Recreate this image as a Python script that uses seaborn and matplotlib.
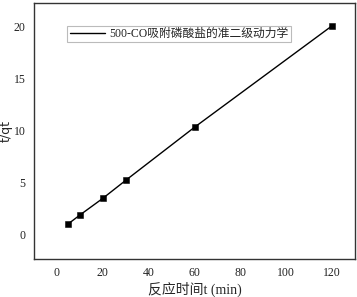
import matplotlib
matplotlib.use("Agg")
import matplotlib.pyplot as plt
import seaborn as sns
import pandas as pd

t_min = [5, 10, 20, 30, 60, 120]
t_over_qt = [1.0, 1.84, 3.45, 5.19, 10.31, 20.1]
series_label = "500-CO吸附磷酸盐的准二级动力学"
x_label = "反应时间t (min)"
y_label = "t/qt"
x_ticks = [0, 20, 40, 60, 80, 100, 120]
y_ticks = [0, 5, 10, 15, 20]

sns.set_theme(style="white")
plt.rcParams['font.family'] = ['Liberation Serif', 'Noto Sans CJK SC']

df = pd.DataFrame({"t": t_min, "v": t_over_qt})

fig = plt.figure(figsize=(3.57, 2.97), dpi=100)
ax = fig.add_axes([34/357, 38/297, 321/357, 256/297])

sns.lineplot(data=df, x="t", y="v", ax=ax, color="black", linewidth=1.0, label=series_label)
sns.scatterplot(data=df, x="t", y="v", ax=ax, color="black", marker="s", s=22, edgecolor="black", zorder=5)

ax.set_xlim(-10, 130)
ax.set_ylim(-2.4, 22.3)
ax.set_xticks(x_ticks)
ax.set_yticks(y_ticks)
ax.tick_params(axis="both", length=0, labelsize=8.5, colors="#222222", pad=6)
ax.set_xlabel(x_label, fontsize=10, labelpad=2)
ax.set_ylabel(y_label, fontsize=9, family=['DejaVu Sans'], labelpad=1)
for s in ax.spines.values():
    s.set_color("#333333")
    s.set_linewidth(1.0)

leg = ax.legend(loc="upper left", bbox_to_anchor=(0.085, 0.935), fontsize=8.5, frameon=True,
                fancybox=False, borderpad=0.2, handlelength=3, handletextpad=0.4)
leg.get_frame().set_edgecolor("#aaaaaa")
leg.get_frame().set_linewidth(0.8)

fig.savefig("out.png", dpi=100)
